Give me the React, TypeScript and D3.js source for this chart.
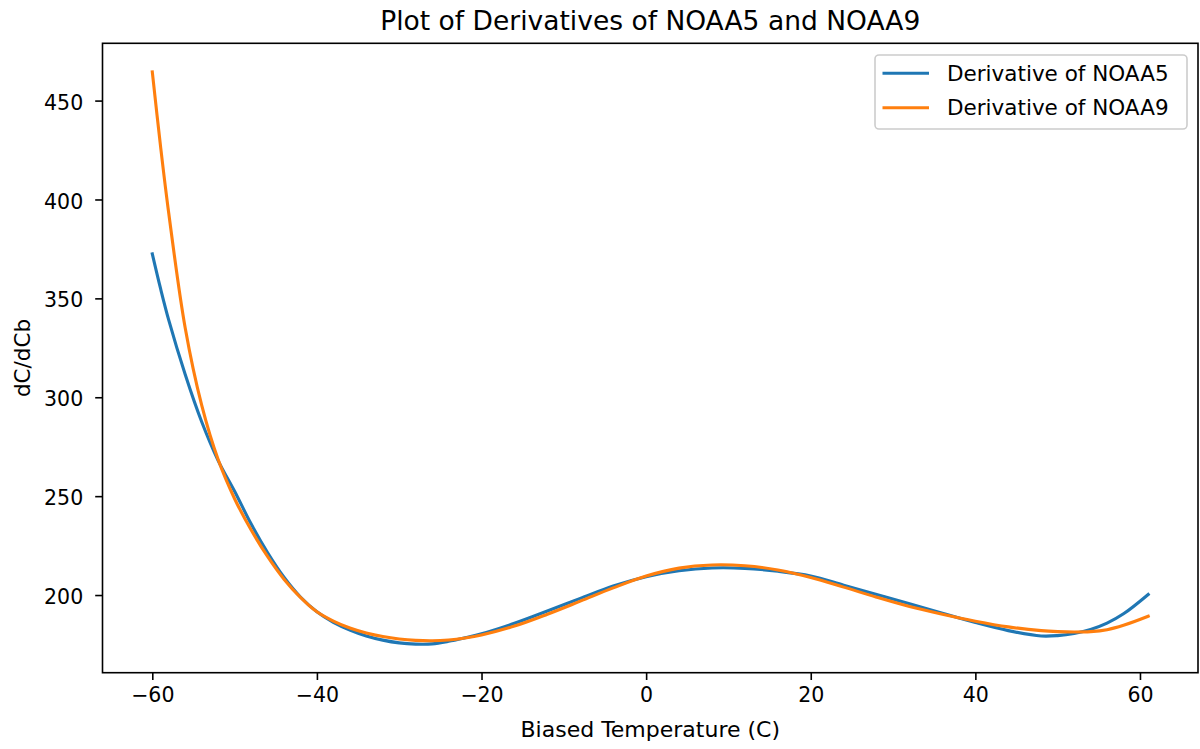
import { useEffect, useRef } from "react";
import * as d3 from "d3";

const WIDTH = 1200;
const HEIGHT = 749;

const temps = [
  -60, -59, -58, -56, -54, -52, -50, -48, -46, -44, -42, -40, -38, -36, -34, -32, -30, -28, -26,
  -24, -22, -20, -16, -12, -8, -4, 0, 4, 8, 12, 16, 20, 24, 28, 32, 36, 40, 44, 48, 50, 52, 54,
  56, 58, 61,
];

const noaa5 = [
  372.5, 355, 339, 311.5, 287.6, 268, 252.5, 236, 221.5, 209, 199, 191.5, 186.2, 182.3, 179.3,
  177.2, 175.8, 175.2, 175.3, 176.6, 178.4, 180.4, 185.7, 191.9, 198.3, 204.6, 209.3, 212.3,
  213.7, 213.5, 212, 209.6, 205, 200.3, 195.6, 190.8, 186.1, 182, 179.3, 179.5, 180.6, 182.6,
  185.8, 190.5, 200.3,
];

const noaa9 = [
  464.5, 427, 393, 335, 296, 268.5, 248.7, 233, 219.5, 208, 198.8, 191.5, 186.8, 183.3, 180.8,
  179, 177.8, 177.1, 176.9, 177.3, 178.3, 179.8, 184.3, 190.3, 196.9, 203.6, 209.6, 213.6, 215.2,
  214.8, 212.7, 208.9, 204, 198.9, 194.2, 190.3, 186.8, 183.9, 182, 181.5, 181.3, 181.5, 182.5,
  184.7, 189.3,
];

const xTicks = [-60, -40, -20, 0, 20, 40, 60];
const yTicks = [200, 250, 300, 350, 400, 450];

const seriesNames = ["Derivative of NOAA5", "Derivative of NOAA9"];
const seriesColors = ["#1f77b4", "#ff7f0e"];

const FONT = "DejaVu Sans, sans-serif";

export default function App() {
  const svgRef = useRef<SVGSVGElement | null>(null);

  useEffect(() => {
    if (!svgRef.current) return;
    const svg = d3.select(svgRef.current);
    svg.selectAll("*").remove();

    const plot = { left: 102.5, right: 1198, top: 43.3, bottom: 672.7 };

    // matplotlib-style 5% margins around the data
    const xMin = d3.min(temps)!;
    const xMax = d3.max(temps)!;
    const xPad = (xMax - xMin) * 0.05;
    const allY = [...noaa5, ...noaa9];
    const yMin = d3.min(allY)!;
    const yMax = d3.max(allY)!;
    const yPad = (yMax - yMin) * 0.05;

    const x = d3
      .scaleLinear()
      .domain([xMin - xPad, xMax + xPad])
      .range([plot.left, plot.right]);
    const y = d3
      .scaleLinear()
      .domain([yMin - yPad, yMax + yPad])
      .range([plot.bottom, plot.top]);

    svg
      .append("rect")
      .attr("width", WIDTH)
      .attr("height", HEIGHT)
      .attr("fill", "#fff");

    const line = d3
      .line<[number, number]>()
      .x((d) => x(d[0]))
      .y((d) => y(d[1]))
      .curve(d3.curveCatmullRom.alpha(0.5));

    [noaa5, noaa9].forEach((vals, i) => {
      svg
        .append("path")
        .datum(temps.map((t, j) => [t, vals[j]] as [number, number]))
        .attr("d", line)
        .attr("fill", "none")
        .attr("stroke", seriesColors[i])
        .attr("stroke-width", 3.1)
        .attr("stroke-linecap", "square");
    });

    // frame
    svg
      .append("rect")
      .attr("x", plot.left)
      .attr("y", plot.top)
      .attr("width", plot.right - plot.left)
      .attr("height", plot.bottom - plot.top)
      .attr("fill", "none")
      .attr("stroke", "#000")
      .attr("stroke-width", 1.6);

    const tickFs = 20.5;
    const fs = 21.5;

    // x axis
    const xAxis = svg
      .append("g")
      .attr("transform", `translate(0,${plot.bottom})`)
      .call(
        d3
          .axisBottom(x)
          .tickValues(xTicks)
          .tickSize(7.3)
          .tickPadding(7)
          .tickFormat((d) => d3.format("")(d as number).replace("-", "\u2212"))
      );
    xAxis.select(".domain").remove();
    xAxis.selectAll("line").attr("stroke", "#000").attr("stroke-width", 1.6);
    xAxis
      .selectAll("text")
      .attr("font-family", FONT)
      .attr("font-size", tickFs)
      .attr("fill", "#000");

    // y axis
    const yAxis = svg
      .append("g")
      .attr("transform", `translate(${plot.left},0)`)
      .call(d3.axisLeft(y).tickValues(yTicks).tickSize(7.3).tickPadding(12));
    yAxis.select(".domain").remove();
    yAxis.selectAll("line").attr("stroke", "#000").attr("stroke-width", 1.6);
    yAxis
      .selectAll("text")
      .attr("font-family", FONT)
      .attr("font-size", tickFs)
      .attr("fill", "#000")
      .attr("dy", "0.42em");

    // title and labels
    svg
      .append("text")
      .attr("x", (plot.left + plot.right) / 2)
      .attr("y", 29.5)
      .attr("text-anchor", "middle")
      .attr("font-family", FONT)
      .attr("font-size", 26.5)
      .attr("fill", "#000")
      .text("Plot of Derivatives of NOAA5 and NOAA9");

    svg
      .append("text")
      .attr("x", (plot.left + plot.right) / 2)
      .attr("y", 737)
      .attr("text-anchor", "middle")
      .attr("font-family", FONT)
      .attr("font-size", 22)
      .attr("fill", "#000")
      .text("Biased Temperature (C)");

    svg
      .append("text")
      .attr("transform", `translate(30,${(plot.top + plot.bottom) / 2}) rotate(-90)`)
      .attr("text-anchor", "middle")
      .attr("font-family", FONT)
      .attr("font-size", fs)
      .attr("fill", "#000")
      .text("dC/dCb");

    // legend
    const legend = svg.append("g");
    legend
      .append("rect")
      .attr("x", 875)
      .attr("y", 55)
      .attr("width", 312)
      .attr("height", 74)
      .attr("rx", 4)
      .attr("fill", "#fff")
      .attr("fill-opacity", 0.8)
      .attr("stroke", "#cccccc")
      .attr("stroke-width", 1.6);

    seriesNames.forEach((name, i) => {
      const cy = 73.3 + i * 34.4;
      legend
        .append("line")
        .attr("x1", 882.5)
        .attr("x2", 929)
        .attr("y1", cy)
        .attr("y2", cy)
        .attr("stroke", seriesColors[i])
        .attr("stroke-width", 3.1);
      legend
        .append("text")
        .attr("x", 947)
        .attr("y", cy + 7.6)
        .attr("font-family", FONT)
        .attr("font-size", fs)
        .attr("fill", "#000")
        .text(name);
    });
  }, []);

  return (
    <svg
      ref={svgRef}
      width={WIDTH}
      height={HEIGHT}
      style={{ position: "absolute", left: 0, top: 0, display: "block" }}
    />
  );
}
